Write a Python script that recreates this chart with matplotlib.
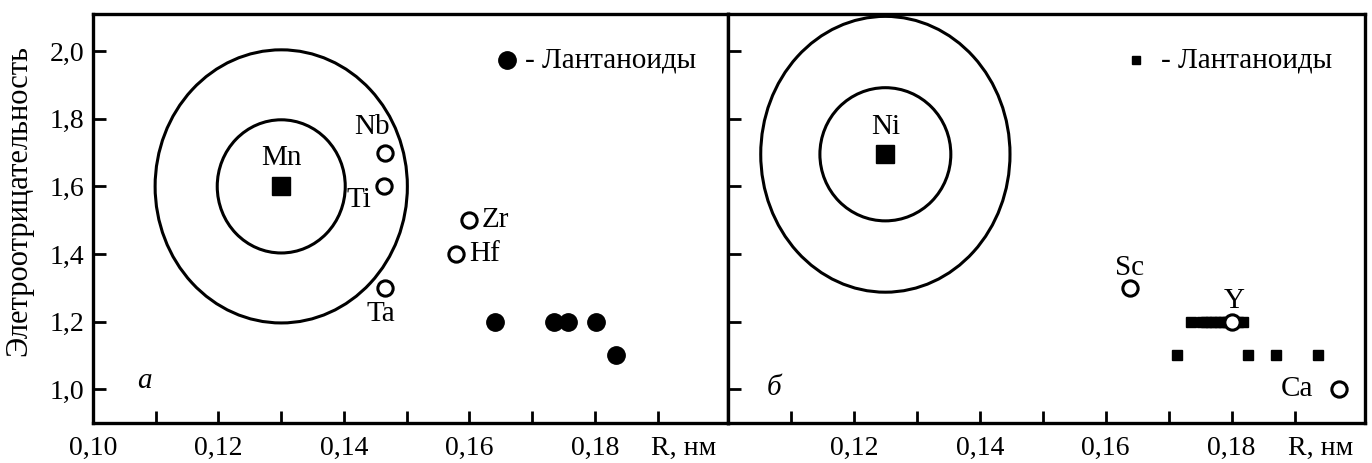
import matplotlib
matplotlib.use("Agg")
import matplotlib.pyplot as plt
from matplotlib.patches import Ellipse

plt.rcParams["font.family"] = ["Liberation Serif", "DejaVu Serif"]

# ---- data ----
X_TICKS = [0.10, 0.11, 0.12, 0.13, 0.14, 0.15, 0.16, 0.17, 0.18, 0.19]
X_LABELS_A = ["0,10", "", "0,12", "", "0,14", "", "0,16", "", "0,18", ""]
X_LABELS_B = ["", "", "0,12", "", "0,14", "", "0,16", "", "0,18", ""]
Y_TICKS = [1.0, 1.2, 1.4, 1.6, 1.8, 2.0]
Y_LABELS = ["1,0", "1,2", "1,4", "1,6", "1,8", "2,0"]

# panel a: Mn
mn_center = (0.130, 1.60)
mn_rings = [(0.0204, 0.394), (0.0402, 0.808)]  # (width, height) in data units
a_open_names = ["Nb", "Ti", "Ta", "Zr", "Hf"]
a_open_x = [0.1466, 0.1463, 0.1466, 0.1600, 0.1579]
a_open_y = [1.70, 1.60, 1.30, 1.50, 1.40]
a_lan_x = [0.1640, 0.1735, 0.1757, 0.1801, 0.1834]
a_lan_y = [1.20, 1.20, 1.20, 1.20, 1.10]

# panel б: Ni
ni_center = (0.125, 1.695)
ni_rings = [(0.0208, 0.394), (0.0396, 0.816)]
b_open_names = ["Sc", "Y", "Ca"]
b_open_x = [0.1638, 0.1800, 0.1971]
b_open_y = [1.30, 1.20, 1.00]
b_lan_x = [0.1735, 0.1753, 0.1760, 0.1767, 0.1774, 0.1781, 0.1788,
           0.1795, 0.1802, 0.1810, 0.1818,
           0.1713, 0.1826, 0.1871, 0.1938]
b_lan_y = [1.20] * 11 + [1.10] * 4

XLIM = (0.10, 0.2012)
YLIM = (0.90, 2.11)
LW = 2.4
FS_TICK = 20
FS = 21

fig = plt.figure(figsize=(13.72, 4.63), dpi=100)
ax_a = fig.add_axes([93 / 1372, 40 / 463, 635 / 1372, 409 / 463])
ax_b = fig.add_axes([728 / 1372, 40 / 463, 637 / 1372, 409 / 463])

for ax, xl in ((ax_a, X_LABELS_A), (ax_b, X_LABELS_B)):
    ax.set_xlim(*XLIM); ax.set_ylim(*YLIM)
    for sp in ax.spines.values():
        sp.set_linewidth(LW)
    ax.set_xticks(X_TICKS)
    ax.set_xticklabels(xl, fontsize=FS_TICK)
    ax.set_yticks(Y_TICKS)
    ax.tick_params(direction="in", length=9, width=2.0, pad=6)
    ax.tick_params(axis="x", pad=9)
    ax.text(0.1890, -0.062, "R, нм", transform=ax.get_xaxis_transform(),
            ha="left", va="center", fontsize=FS_TICK, clip_on=False)

ax_a.set_yticklabels(Y_LABELS, fontsize=FS_TICK)
ax_b.set_yticklabels([])
ax_a.set_ylabel("Элетроотрицательность", fontsize=22)
ax_a.yaxis.set_label_coords(-0.094, 0.545)

# rings
for ax, c, rings in ((ax_a, mn_center, mn_rings), (ax_b, ni_center, ni_rings)):
    for w, h in rings:
        ax.add_patch(Ellipse(c, w, h, fill=False, lw=2.2, ec="black"))

# panel a marks
ax_a.plot([mn_center[0]], [mn_center[1]], "s", color="black", ms=13)
ax_a.text(mn_center[0], 1.685, "Mn", ha="center", va="center", fontsize=FS)
ax_a.plot(a_open_x, a_open_y, "o", ls="none", mfc="white", mec="black",
          ms=11, mew=2.2)
ax_a.plot(a_lan_x, a_lan_y, "o", ls="none", color="black", ms=12.5)
a_lbl = {"Nb": (0.1445, 1.775, "center"), "Ti": (0.1424, 1.56, "center"),
         "Ta": (0.1459, 1.222, "center"), "Zr": (0.1620, 1.50, "left"),
         "Hf": (0.1600, 1.40, "left")}
for n in a_open_names:
    x, y, ha = a_lbl[n]
    ax_a.text(x, y, n, ha=ha, va="center", fontsize=FS)
ax_a.plot([0.166], [1.973], "o", color="black", ms=12.5)
ax_a.text(0.1689, 1.973, "- Лантаноиды", ha="left", va="center", fontsize=FS)
ax_a.text(0.1082, 1.025, "а", style="italic", ha="center", va="center",
          fontsize=FS)

# panel б marks
ax_b.plot([ni_center[0]], [ni_center[1]], "s", color="black", ms=13)
ax_b.text(ni_center[0], 1.775, "Ni", ha="center", va="center", fontsize=FS)
ax_b.plot(b_lan_x, b_lan_y, "s", ls="none", color="black", ms=7)
ax_b.plot(b_open_x, b_open_y, "o", ls="none", mfc="white", mec="black",
          ms=11, mew=2.2)
ax_b.text(0.1638, 1.36, "Sc", ha="center", va="center", fontsize=FS)
ax_b.text(0.1804, 1.262, "Y", ha="center", va="center", fontsize=FS)
ax_b.text(0.1929, 1.0, "Ca", ha="right", va="center", fontsize=FS)
ax_b.plot([0.1648], [1.973], "s", color="black", ms=6)
ax_b.text(0.1688, 1.973, "- Лантаноиды", ha="left", va="center", fontsize=FS)
ax_b.text(0.1073, 1.005, "б", style="italic", ha="center", va="center",
          fontsize=FS)

fig.savefig("out.png", dpi=100)
